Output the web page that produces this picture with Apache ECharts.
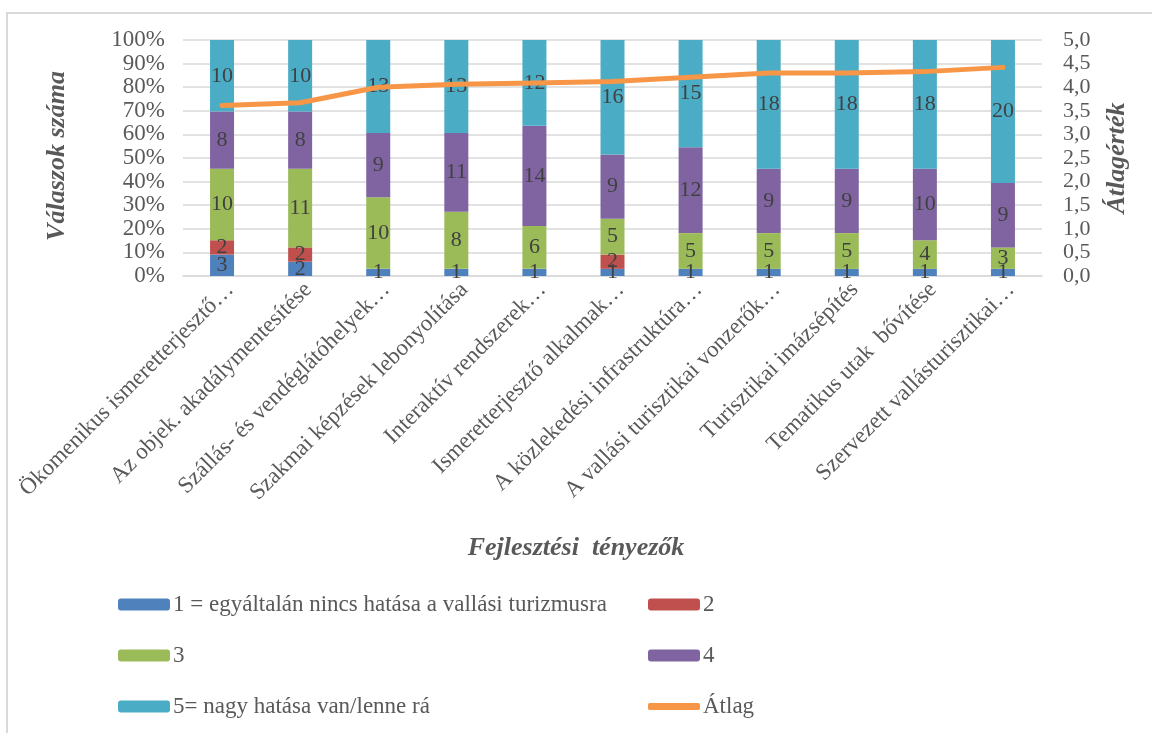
<!DOCTYPE html>
<html>
<head>
<meta charset="utf-8">
<script src="https://cdn.jsdelivr.net/npm/echarts@6/dist/echarts.min.js"></script>
<style>
html,body{margin:0;padding:0;background:#fff;}
#frame{position:absolute;left:6px;top:12px;width:1160px;height:740px;border:2px solid #D9D9D9;box-sizing:border-box;}
#chart{position:absolute;left:0;top:0;width:1152px;height:733px;}
</style>
</head>
<body>
<div id="frame"></div>
<div id="chart"></div>
<script>
const categories = [
  'Ökomenikus ismeretterjesztő…',
  'Az objek. akadálymentesítése',
  'Szállás- és vendéglátóhelyek…',
  'Szakmai képzések lebonyolítása',
  'Interaktív rendszerek…',
  'Ismeretterjesztő alkalmak…',
  'A közlekedési infrastruktúra…',
  'A vallási turisztikai vonzerők…',
  'Turisztikai imázsépítés',
  'Tematikus utak  bővítése',
  'Szervezett vallásturisztikai…'
];
const seriesNames = ['1 = egyáltalán nincs hatása a vallási turizmusra', '2', '3', '4', '5= nagy hatása van/lenne rá'];
const r1 = [3, 2, 1, 1, 1, 1, 1, 1, 1, 1, 1];
const r2 = [2, 2, 0, 0, 0, 2, 0, 0, 0, 0, 0];
const r3 = [10, 11, 10, 8, 6, 5, 5, 5, 5, 4, 3];
const r4 = [8, 8, 9, 11, 14, 9, 12, 9, 9, 10, 9];
const r5 = [10, 10, 13, 13, 12, 16, 15, 18, 18, 18, 20];
const atlag = [3.61, 3.67, 4.00, 4.06, 4.09, 4.12, 4.21, 4.30, 4.30, 4.33, 4.42];
const leftTicks = ['0%','10%','20%','30%','40%','50%','60%','70%','80%','90%','100%'];
const rightTicks = ['0,0','0,5','1,0','1,5','2,0','2,5','3,0','3,5','4,0','4,5','5,0'];
const colors = ['#4F81BD', '#C0504D', '#9BBB59', '#8064A2', '#4BACC6', '#F79646'];

const rows = [r1, r2, r3, r4, r5];
const totals = categories.map((c, i) => rows.reduce((s, r) => s + r[i], 0));
const font = '"Liberation Serif", "Times New Roman", serif';

const barSeries = rows.map((r, k) => ({
  name: seriesNames[k],
  type: 'bar',
  stack: 'all',
  barWidth: 24,
  itemStyle: { color: colors[k] },
  data: r.map((v, i) => ({ value: v / totals[i] * 100, raw: v })),
  label: {
    show: true,
    position: 'inside',
    fontFamily: font,
    fontSize: 22,
    color: '#404040',
    formatter: p => (p.data.raw ? String(p.data.raw) : '')
  }
}));

const lineSeries = {
  name: 'Átlag',
  type: 'line',
  yAxisIndex: 1,
  data: atlag,
  symbol: 'none',
  showSymbol: false,
  lineStyle: { color: colors[5], width: 5, cap: 'round' },
  itemStyle: { color: colors[5] },
  z: 5
};

function leg(name, left, top, icon, h) {
  return {
    data: [icon ? { name: name, icon: icon } : name], left: left, top: top, orient: 'horizontal',
    itemWidth: 52, itemHeight: h || 12, itemGap: 4,
    textStyle: { fontFamily: font, fontSize: 23, color: '#595959', padding: [0, 0, 0, -2] },
    selectedMode: false
  };
}

const chart = echarts.init(document.getElementById('chart'));
chart.setOption({
  animation: false,
  textStyle: { fontFamily: font },
  grid: { left: 183, right: 110, top: 40, bottom: 457 },
  legend: [
    leg(seriesNames[0], 113, 588),
    leg(seriesNames[1], 643, 588),
    leg(seriesNames[2], 113, 639),
    leg(seriesNames[3], 643, 639),
    leg(seriesNames[4], 113, 690),
    leg('Átlag', 643, 690, 'roundRect', 7)
  ],
  xAxis: {
    type: 'category',
    data: categories,
    axisLine: { lineStyle: { color: '#D9D9D9', width: 1.5 } },
    axisTick: { show: false },
    axisLabel: { interval: 0, rotate: 45, fontFamily: font, fontSize: 23, color: '#595959', margin: 2, verticalAlign: 'top' }
  },
  yAxis: [
    {
      type: 'value', min: 0, max: 100, interval: 10,
      axisLine: { show: false }, axisTick: { show: false },
      splitLine: { lineStyle: { color: '#D9D9D9', width: 1.5 } },
      axisLabel: { fontFamily: font, fontSize: 23, color: '#595959', margin: 18,
        formatter: v => leftTicks[Math.round(v / 10)] }
    },
    {
      type: 'value', min: 0, max: 5, interval: 0.5,
      axisLine: { show: false }, axisTick: { show: false },
      splitLine: { show: false },
      axisLabel: { fontFamily: font, fontSize: 22, color: '#595959', margin: 21,
        formatter: v => rightTicks[Math.round(v * 2)] }
    }
  ],
  graphic: [
    { type: 'text', x: 57, y: 156, rotation: Math.PI / 2,
      style: { text: 'Válaszok száma', font: 'italic bold 26px "Liberation Serif", serif', fill: '#595959', align: 'center', verticalAlign: 'middle' } },
    { type: 'text', x: 1117, y: 158, rotation: Math.PI / 2,
      style: { text: 'Átlagérték', font: 'italic bold 26px "Liberation Serif", serif', fill: '#595959', align: 'center', verticalAlign: 'middle' } },
    { type: 'text', x: 576, y: 548,
      style: { text: 'Fejlesztési  tényezők', font: 'italic bold 26px "Liberation Serif", serif', fill: '#595959', align: 'center', verticalAlign: 'middle' } }
  ],
  series: [...barSeries, lineSeries]
});
</script>
</body>
</html>
